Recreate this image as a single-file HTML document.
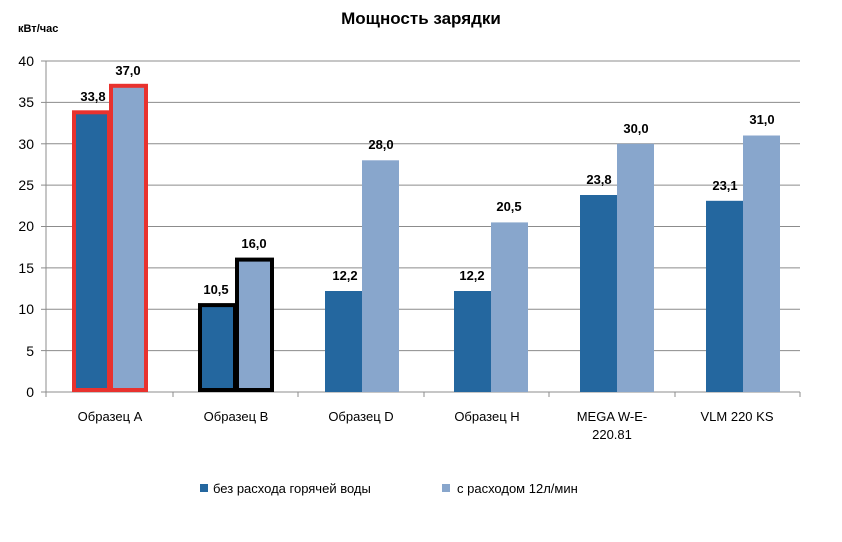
<!DOCTYPE html>
<html><head><meta charset="utf-8"><style>body{margin:0;background:#fff}</style></head><body>
<svg width="842" height="537" xmlns="http://www.w3.org/2000/svg" font-family="Liberation Sans, DejaVu Sans, sans-serif">
<rect width="842" height="537" fill="#fff"/>
<text x="421" y="24" text-anchor="middle" font-size="17" font-weight="bold" fill="#000">Мощность зарядки</text>
<text x="18" y="32" font-size="11" font-weight="bold" fill="#000">кВт/час</text>
<g stroke="#8c8c8c" stroke-width="1">
<line x1="46" y1="61" x2="800" y2="61"/><line x1="46" y1="102.4" x2="800" y2="102.4"/>
<line x1="46" y1="143.8" x2="800" y2="143.8"/><line x1="46" y1="185.1" x2="800" y2="185.1"/>
<line x1="46" y1="226.5" x2="800" y2="226.5"/><line x1="46" y1="267.9" x2="800" y2="267.9"/>
<line x1="46" y1="309.3" x2="800" y2="309.3"/><line x1="46" y1="350.6" x2="800" y2="350.6"/>
<line x1="46" y1="61" x2="46" y2="397"/><line x1="41" y1="392" x2="800" y2="392"/>
<line x1="41" y1="61" x2="46" y2="61"/><line x1="41" y1="102.4" x2="46" y2="102.4"/><line x1="41" y1="143.8" x2="46" y2="143.8"/><line x1="41" y1="185.1" x2="46" y2="185.1"/><line x1="41" y1="226.5" x2="46" y2="226.5"/><line x1="41" y1="267.9" x2="46" y2="267.9"/><line x1="41" y1="309.3" x2="46" y2="309.3"/><line x1="41" y1="350.6" x2="46" y2="350.6"/>
<line x1="173" y1="392" x2="173" y2="397"/><line x1="298" y1="392" x2="298" y2="397"/><line x1="424" y1="392" x2="424" y2="397"/><line x1="549" y1="392" x2="549" y2="397"/><line x1="675" y1="392" x2="675" y2="397"/><line x1="800" y1="392" x2="800" y2="397"/>
</g>
<g font-size="14" fill="#000" text-anchor="end">
<text x="34" y="66">40</text><text x="34" y="107">35</text><text x="34" y="149">30</text><text x="34" y="190">25</text><text x="34" y="231">20</text><text x="34" y="273">15</text><text x="34" y="314">10</text><text x="34" y="356">5</text><text x="34" y="397">0</text>
</g>
<!-- bars -->
<rect x="74" y="112.3" width="35" height="277.7" fill="#24679f" stroke="#e8322e" stroke-width="4"/>
<rect x="111" y="85.8" width="35" height="304.2" fill="#88a6cc" stroke="#e8322e" stroke-width="4"/>
<rect x="200" y="305.1" width="35" height="84.9" fill="#24679f" stroke="#000" stroke-width="4"/>
<rect x="237" y="259.6" width="35" height="130.4" fill="#88a6cc" stroke="#000" stroke-width="4"/>
<rect x="325" y="291" width="37" height="101" fill="#24679f"/>
<rect x="362" y="160.3" width="37" height="231.7" fill="#88a6cc"/>
<rect x="454" y="291" width="37" height="101" fill="#24679f"/>
<rect x="491" y="222.4" width="37" height="169.6" fill="#88a6cc"/>
<rect x="580" y="195" width="37" height="197" fill="#24679f"/>
<rect x="617" y="143.8" width="37" height="248.2" fill="#88a6cc"/>
<rect x="706" y="200.8" width="37" height="191.2" fill="#24679f"/>
<rect x="743" y="135.5" width="37" height="256.5" fill="#88a6cc"/>
<g font-size="13" font-weight="bold" fill="#000" text-anchor="middle">
<text x="93" y="101">33,8</text><text x="128" y="75">37,0</text>
<text x="216" y="294">10,5</text><text x="254" y="248">16,0</text>
<text x="345" y="280">12,2</text><text x="381" y="149">28,0</text>
<text x="472" y="280">12,2</text><text x="509" y="211">20,5</text>
<text x="599" y="184">23,8</text><text x="636" y="133">30,0</text>
<text x="725" y="190">23,1</text><text x="762" y="124">31,0</text>
</g>
<g font-size="13" fill="#000" text-anchor="middle">
<text x="110" y="421">Образец А</text><text x="236" y="421">Образец В</text>
<text x="361" y="421">Образец D</text><text x="487" y="421">Образец H</text>
<text x="612" y="421">MEGA W-E-</text><text x="612" y="439">220.81</text>
<text x="737" y="421">VLM 220 KS</text>
</g>
<rect x="200" y="484" width="8" height="8" fill="#24679f"/>
<text x="213" y="493" font-size="13" fill="#000">без расхода горячей воды</text>
<rect x="442" y="484" width="8" height="8" fill="#88a6cc"/>
<text x="457" y="493" font-size="13" fill="#000">с  расходом 12л/мин</text>
</svg>
</body></html>
